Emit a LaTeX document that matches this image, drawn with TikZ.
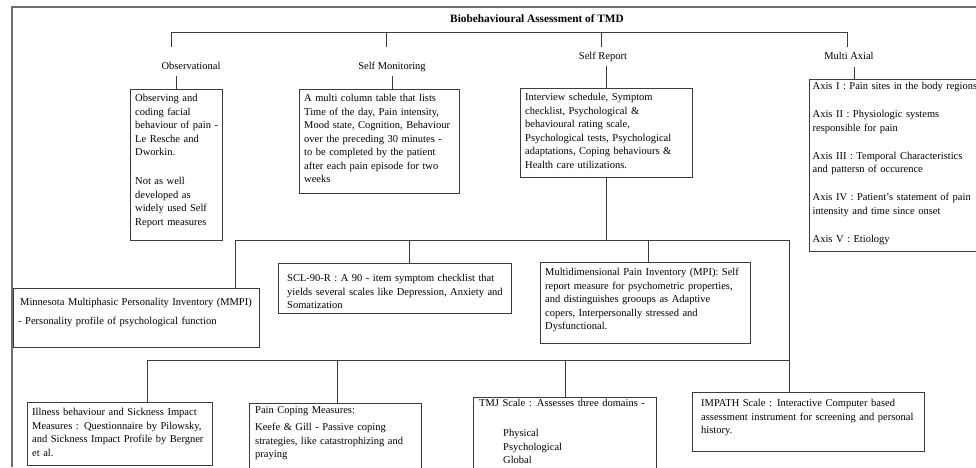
\documentclass[tikz,border=0pt]{standalone}
\usepackage{fontspec}
\setmainfont{Liberation Serif}
\newcommand{\boxfont}{\fontsize{10.5}{13.5}\selectfont\hyphenpenalty=10000}
\definecolor{frameg}{RGB}{110,110,110}
\definecolor{lineg}{RGB}{60,60,60}
\tikzset{
  box/.style={draw=lineg, anchor=north west, align=left, inner xsep=5pt,
    inner ysep=3pt, font=\boxfont},
  head/.style={inner sep=0pt, text height=7.5pt, text depth=2.5pt, font=\boxfont},
  conn/.style={draw=lineg, line width=0.9pt},
}

\begin{document}
\begin{tikzpicture}[x=1pt,y=-1pt]
    \useasboundingbox (0,0) rectangle (976,467);
    \clip (0,0) rectangle (976,467);
    % outer frame
    \draw [frameg, line width=1.3pt] (12,467) -- (12,7) -- (976,7);
    \node[font=\fontsize{11.3}{13}\selectfont\bfseries] (title) at (537,19) {Biobehavioural Assessment of TMD};

    % four branches
    \node[head] (obslab) at (191,67) {Observational};
    \node[head] (smonlab) at (392,67) {Self Monitoring};
    \node[head] (sreplab) at (603,57) {Self Report};
    \node[head] (maxlab) at (849,57) {Multi Axial};

    \node[box, text width=86pt, text height=9.5pt, text depth=135.5pt, inner xsep=3pt] (obsbox) at (130,89)
      {\hspace*{2pt}Observing and\\ \hspace*{2pt}coding facial\\ \hspace*{2pt}behaviour of pain~-\\
       \hspace*{2pt}Le Resche and\\ \hspace*{2pt}Dworkin.\\[15.5pt]
       \hspace*{2pt}Not as well\\ \hspace*{2pt}developed as\\ \hspace*{2pt}widely used Self\\ \hspace*{2pt}Report measures};
    \node[box, text width=150pt, text height=9.5pt, text depth=88.5pt] (smonbox) at (299,89)
      {A multi column table that lists\\ Time of the day, Pain intensity,\\ Mood state, Cognition, Behaviour\\
       over the preceding 30 minutes -\\ to be completed by the patient\\ after each pain episode for two\\ weeks};
    \node[box, text width=162pt, text height=9.5pt, text depth=73.5pt] (srepbox) at (520,88)
      {Interview schedule, Symptom\\ checklist, Psychological \&\\ behavioural rating scale,\\
       Psychological tests, Psychological\\ adaptations, Coping behaviours \&\\ Health care utilizations.};
    \node[box, text width=175pt, text height=7.5pt, text depth=158.5pt, inner xsep=3.5pt] (maxbox) at (809,79)
      {Axis I : Pain sites in the body regions\\[14.5pt]
       Axis II : Physiologic systems\\ responsible for pain\\[14.5pt]
       Axis III : Temporal Characteristics\\ and pattersn of occurence\\[14.5pt]
       Axis IV : Patient's statement of pain\\ intensity and time since onset\\[14.5pt]
       Axis V : Etiology};

    % self report measures
    \node[box, text width=236pt, text height=14.5pt, text depth=38.5pt] (mmpi) at (13,288)
      {\hspace*{2pt}Minnesota Multiphasic Personality Inventory (MMPI)\\[5.5pt]
       - Personality profile of psychological function};
    \node[box, text width=223pt, text height=15.5pt, text depth=28.5pt, inner xsep=5pt] (scl) at (278,263)
      {\hspace*{4pt}SCL-90-R : A 90 - item symptom checklist that\\
       \hspace*{4pt}yields several scales like Depression, Anxiety~and\\ \hspace*{4pt}Somatization};
    \node[box, text width=200pt, text height=10.5pt, text depth=64.5pt] (mpi) at (540,262)
      {Multidimensional Pain Inventory (MPI): Self\\ report measure for psychometric properties,\\
       and distinguishes grooups as Adaptive\\ copers, Interpersonally stressed and\\ Dysfunctional.};
    \node[box, text width=175pt, text height=10.5pt, text depth=46.5pt] (illness) at (27,402)
      {Illness behaviour and Sickness Impact\\ Measures : Questionnaire by Pilowsky,\\
       and Sickness Impact Profile by Bergner\\ et al.};
    \node[box, text width=160pt, text height=7.5pt, text depth=66.5pt, inner xsep=6pt] (pcoping) at (249,403)
      {Pain Coping Measures:\\[3.5pt] Keefe \& Gill - Passive coping\\ strategies, like catastrophizing and\\ praying};
    \node[box, text width=171pt, text height=6.5pt, text depth=67.5pt, inner xsep=6pt] (tmj) at (473,397)
      {TMJ Scale : Assesses three domains -\\[16.5pt]
       \hspace*{24pt}Physical\\ \hspace*{24pt}Psychological\\ \hspace*{24pt}Global};
    \node[box, text width=214pt, text height=11.5pt, text depth=41.5pt, inner xsep=9pt] (impath) at (692,392)
      {IMPATH Scale : Interactive Computer based\\ assessment instrument for screening and personal\\ history.};

    % top tree
    \coordinate (t1) at (171,32);
    \coordinate (t2) at (386,32);
    \coordinate (t3) at (601,32);
    \coordinate (t4) at (847,32);
    \draw [conn] (t1) -- (t4);
    \draw [conn, shorten >=15pt] (t1) -- (t1 |- obslab.north);
    \draw [conn, shorten >=15pt] (t2) -- (t2 |- smonlab.north);
    \draw [conn, shorten >=5pt] (t3) -- (t3 |- sreplab.north);
    \draw [conn, shorten >=5pt] (t4) -- (t4 |- maxlab.north);
    \draw [conn, shorten <=4pt] (obsbox.north |- obslab.south) -- (obsbox.north);
    \draw [conn, shorten <=4pt] (smonlab.south) -- (smonlab.south |- smonbox.north);
    \draw [conn, shorten <=4pt] (srepbox.north |- sreplab.south) -- (srepbox.north);
    \draw [conn, shorten <=5pt] ([xshift=5pt]maxlab.south) -- ([xshift=5pt]maxlab.south |- maxbox.north);

    % self report tree
    \coordinate (u1) at (235,240);
    \coordinate (u2) at (409,240);
    \coordinate (u3) at (648,240);
    \coordinate (u4) at (789,240);
    \draw [conn] (srepbox.south) -- (srepbox.south |- u1);
    \draw [conn] (u1) -- (u4);
    \draw [conn] (u1) -- (u1 |- mmpi.north);
    \draw [conn] (u2) -- (u2 |- scl.north);
    \draw [conn] (u3) -- (u3 |- mpi.north);
    \draw [conn] (u4) -- (u4 |- impath.north);

    \coordinate (v1) at (147,360);
    \coordinate (v2) at (337,360);
    \coordinate (v3) at (565,360);
    \draw [conn] (v1) -- (v1 -| u4);
    \draw [conn] (v1) -- (v1 |- illness.north);
    \draw [conn] (v2) -- (v2 |- pcoping.north);
    \draw [conn] (v3) -- (v3 |- tmj.north);
\end{tikzpicture}
\end{document}
